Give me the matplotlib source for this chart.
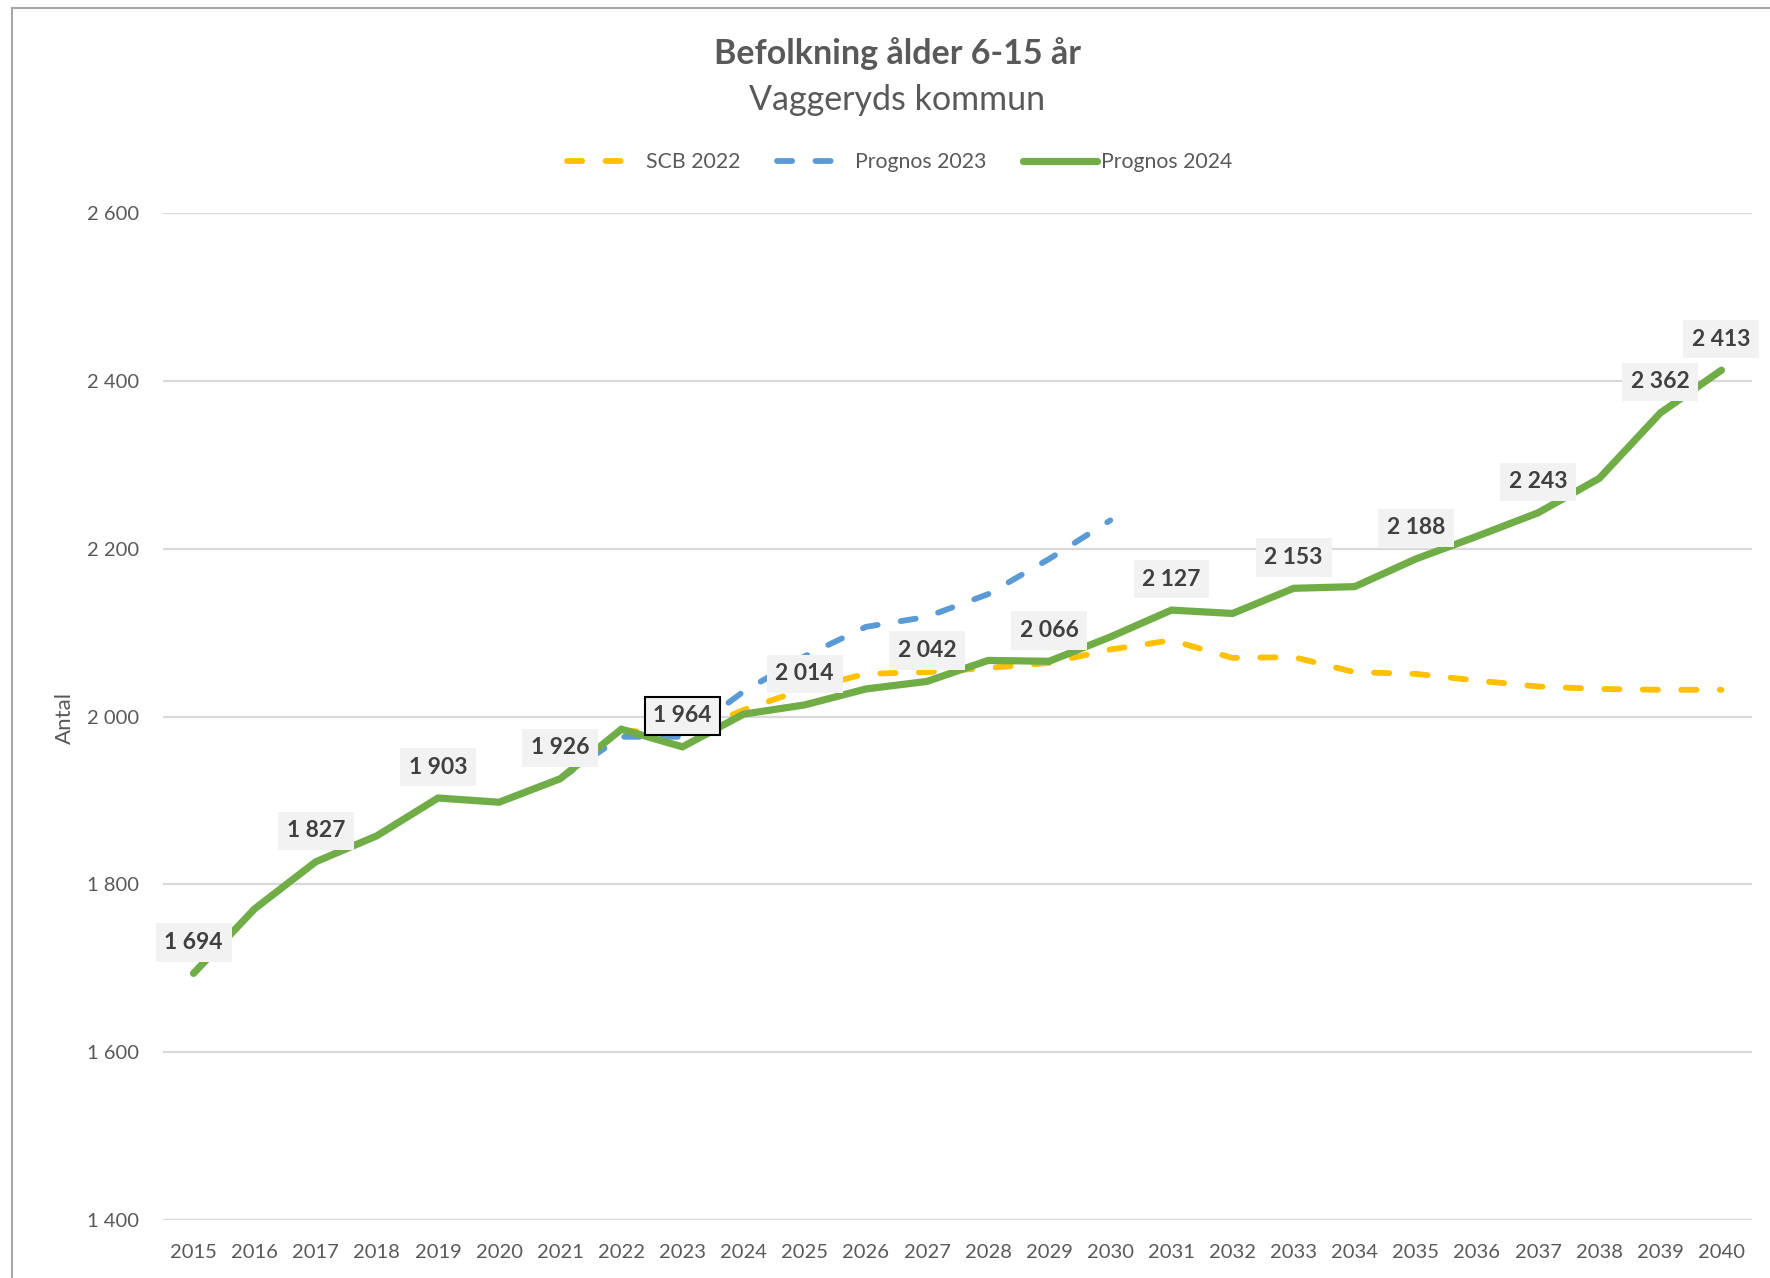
import matplotlib
matplotlib.use("Agg")
import matplotlib.pyplot as plt
from matplotlib.lines import Line2D

plt.rcParams['font.family'] = ['Lato', 'DejaVu Sans']

years = list(range(2015, 2041))
prognos_2024 = [1694, 1771, 1827, 1858, 1903, 1898, 1926, 1985, 1964, 2003, 2014, 2033,
                2042, 2067, 2066, 2095, 2127, 2123, 2153, 2155, 2188, 2215, 2243, 2284,
                2362, 2413]
years_2023 = list(range(2021, 2031))
prognos_2023 = [1926, 1976, 1976, 2030, 2072, 2107, 2119, 2146, 2188, 2234]
years_scb = list(range(2022, 2041))
scb_2022 = [1984, 1978, 2008, 2033, 2051, 2053, 2058, 2064, 2080, 2091, 2070, 2071,
            2053, 2051, 2043, 2036, 2033, 2032, 2032]
label_years = [2015, 2017, 2019, 2021, 2023, 2025, 2027, 2029, 2031, 2033, 2035,
               2037, 2039, 2040]
highlight_year = 2023
yticks = [1400, 1600, 1800, 2000, 2200, 2400, 2600]

TEXT = '#595959'
W, H = 1770, 1278
ax_l, ax_r, ax_t, ax_b = 163, 1752, 213.3, 1220
fig = plt.figure(figsize=(W / 100, H / 100), dpi=100)
ax = fig.add_axes([ax_l / W, 1 - ax_b / H, (ax_r - ax_l) / W, (ax_b - ax_t) / H])

dash = (2.6, 4.0)
ax.plot(years_scb, scb_2022, color='#FFC000', lw=4.2, dashes=dash,
        dash_capstyle='round', solid_capstyle='round', label='SCB 2022', zorder=3)
ax.plot(years_2023, prognos_2023, color='#5B9BD5', lw=4.2, dashes=dash,
        dash_capstyle='round', solid_capstyle='round', label='Prognos 2023', zorder=3)
ax.plot(years, prognos_2024, color='#70AD47', lw=5.2, solid_capstyle='round',
        solid_joinstyle='miter', label='Prognos 2024', zorder=4)

for y, v in zip(years, prognos_2024):
    if y in label_years:
        txt = f"{v:,}".replace(",", " ")
        ec = 'black' if y == highlight_year else '#f2f2f2'
        lw = 1.5 if y == highlight_year else 0
        ax.annotate(txt, (y, v), xytext=(0, 22.3), textcoords='offset points',
                    ha='center', va='center', fontsize=16.5, fontweight='bold',
                    color='#404040', zorder=6,
                    bbox=dict(boxstyle='square,pad=0.38', fc='#f2f2f2', ec=ec, lw=lw))

ax.set_xlim(2014.5, 2040.5)
ax.set_ylim(1400, 2600)
ax.set_xticks(years)
ax.set_xticklabels([str(y) for y in years])
ax.set_yticks(yticks)
ax.set_yticklabels([f"{t:,}".replace(",", " ") for t in yticks])
ax.tick_params(axis='both', length=0, labelsize=14.5, labelcolor=TEXT)
ax.tick_params(axis='x', pad=17.5)
ax.tick_params(axis='y', pad=17)
for s in ax.spines.values():
    s.set_visible(False)
ax.grid(axis='y', color='#d9d9d9', lw=1.6)
ax.set_axisbelow(True)

fig.text(65 / W, 1 - 718 / H, 'Antal', rotation=90, ha='center', va='center',
         fontsize=16, color=TEXT)

fig.text(897 / W, 1 - 54 / H, 'Befolkning ålder 6-15 år', ha='center', va='center',
         fontsize=24.5, fontweight='bold', color=TEXT)
fig.text(897 / W, 1 - 100.5 / H, 'Vaggeryds kommun', ha='center', va='center',
         fontsize=24.5, color=TEXT)

leg = fig.legend(loc='center', bbox_to_anchor=(900 / W, 1 - 162 / H), ncol=3,
                 frameon=False, fontsize=15.3, handlelength=3.5, handletextpad=0.2,
                 columnspacing=1.7)
for t in leg.get_texts():
    t.set_color(TEXT)

fig.add_artist(Line2D([12 / W, 12 / W], [0, 1 - 8 / H], transform=fig.transFigure,
                      color='#a6a6a6', lw=1.5))
fig.add_artist(Line2D([12 / W, 1], [1 - 8 / H, 1 - 8 / H], transform=fig.transFigure,
                      color='#a6a6a6', lw=1.5))

fig.savefig('out.png', dpi=100)
